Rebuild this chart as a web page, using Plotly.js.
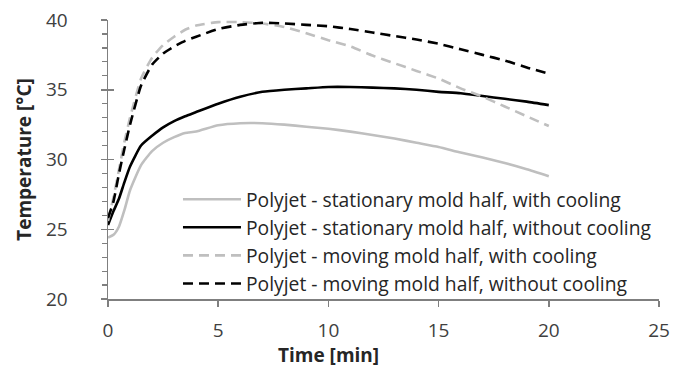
<!DOCTYPE html>
<html>
<head>
<meta charset="utf-8">
<script src="https://cdn.plot.ly/plotly-3.0.1.min.js"></script>
<style>
  html, body { margin: 0; padding: 0; background: #ffffff; }
  #chart { width: 673px; height: 371px; }
</style>
</head>
<body>
<div id="chart"></div>
<script>
// Sampling times (minutes) shared by all four temperature logs
const timeMin = [0, 0.25, 0.5, 0.75, 1, 1.5, 2, 2.5, 3, 3.5, 4, 5, 6, 7, 8, 9, 10,
                 11, 12, 13, 14, 15, 16, 17, 18, 19, 20];

// Mold temperatures (°C)
const stationaryWithCooling = [24.4, 24.6, 25.2, 26.4, 27.8, 29.6, 30.6, 31.2, 31.6, 31.9, 32.0,
  32.45, 32.6, 32.6, 32.5, 32.35, 32.2, 32.0, 31.75, 31.5, 31.2, 30.9, 30.5, 30.15, 29.75, 29.3, 28.8];
const stationaryWithoutCooling = [25.3, 26.3, 27.2, 28.4, 29.5, 31.0, 31.7, 32.3, 32.75, 33.1, 33.4,
  34.0, 34.5, 34.85, 35.0, 35.1, 35.2, 35.2, 35.15, 35.1, 35.0, 34.85, 34.75, 34.55, 34.35, 34.15, 33.9];
const movingWithCooling = [25.6, 27.3, 29.3, 31.3, 33.0, 35.8, 37.3, 38.2, 38.8, 39.3, 39.6,
  39.85, 39.85, 39.75, 39.5, 39.05, 38.55, 38.1, 37.45, 36.9, 36.35, 35.8, 35.1, 34.5, 33.8, 33.1, 32.4];
const movingWithoutCooling = [25.8, 27.0, 29.0, 30.8, 32.5, 35.3, 36.8, 37.6, 38.1, 38.5, 38.8,
  39.35, 39.65, 39.8, 39.75, 39.65, 39.55, 39.35, 39.1, 38.85, 38.6, 38.3, 37.9, 37.5, 37.1, 36.6, 36.15];

const seriesNames = [
  'Polyjet - stationary mold half, with cooling',
  'Polyjet - stationary mold half, without cooling',
  'Polyjet - moving mold half, with cooling',
  'Polyjet - moving mold half, without cooling'
];

const xTickVals = [0, 5, 10, 15, 20, 25];
const yTickVals = [20, 25, 30, 35, 40];

const FONT = 'Open Sans, Noto Sans, sans-serif';
const LIGHT = '#bfbfbf';
const DARK = '#000000';
const AXIS = '#7f7f7f';

function trace(y, name, color, dash, group) {
  return {
    x: timeMin, y: y, name: name, type: 'scatter', mode: 'lines',
    line: { color: color, width: 2.6, dash: dash, shape: 'spline', smoothing: 0.5 },
    legendgroup: group
  };
}

const data = [
  trace(stationaryWithCooling, seriesNames[0], LIGHT, 'solid', 'a'),
  trace(stationaryWithoutCooling, seriesNames[1], DARK, 'solid', 'b'),
  trace(movingWithCooling, seriesNames[2], LIGHT, '10px,6px', 'c'),
  trace(movingWithoutCooling, seriesNames[3], DARK, '10px,6px', 'd'),
  // invisible helper trace that carries the inner half of the crossing y ticks
  { x: [0], y: [20], yaxis: 'y2', mode: 'markers', marker: { opacity: 0 },
    showlegend: false, hoverinfo: 'skip' }
];

const layout = {
  width: 673, height: 371,
  margin: { l: 108, r: 14, t: 20, b: 72 },
  paper_bgcolor: '#ffffff', plot_bgcolor: '#ffffff',
  font: { family: FONT, color: '#404040', size: 18 },
  showlegend: true,
  legend: {
    x: 0.127, xanchor: 'left', y: 0.426, yanchor: 'top',
    bgcolor: 'rgba(0,0,0,0)', borderwidth: 0,
    font: { family: FONT, size: 19.3, color: '#262626' },
    itemwidth: 58, tracegroupgap: 0, traceorder: 'grouped'
  },
  xaxis: {
    range: [0, 25], tickvals: xTickVals, ticktext: xTickVals.map(String),
    showgrid: false, zeroline: false,
    showline: true, linecolor: AXIS, linewidth: 1.5,
    ticks: 'outside', ticklen: 6, tickwidth: 1.5, tickcolor: AXIS,
    ticklabelstandoff: 8,
    tickfont: { family: FONT, size: 19, color: '#404040' },
    fixedrange: true
  },
  yaxis: {
    range: [20, 40], tickvals: yTickVals, ticktext: yTickVals.map(String),
    showgrid: false, zeroline: false,
    showline: true, linecolor: AXIS, linewidth: 1.5,
    ticks: 'outside', ticklen: 6, tickwidth: 1.5, tickcolor: AXIS,
    minor: { dtick: 1, ticks: 'outside', ticklen: 5, tickwidth: 1.2, tickcolor: AXIS, showgrid: false },
    ticklabelstandoff: 29,
    tickfont: { family: FONT, size: 19, color: '#404040' },
    title: { text: 'Temperature [°C]', font: { family: FONT, size: 19, color: '#262626', weight: 'bold' }, standoff: 9 },
    fixedrange: true
  },
  yaxis2: {
    overlaying: 'y', range: [20, 40], tickvals: yTickVals, showticklabels: false,
    ticks: 'inside', ticklen: 6, tickwidth: 1.5, tickcolor: AXIS,
    showgrid: false, zeroline: false, showline: false, fixedrange: true
  },
  annotations: [{
    text: '<b>Time [min]</b>', xref: 'x', x: 10, yref: 'paper', y: 0,
    yshift: -56, xanchor: 'center', yanchor: 'middle', showarrow: false,
    font: { family: FONT, size: 19, color: '#262626' }
  }]
};

Plotly.newPlot('chart', data, layout, { staticPlot: true, displayModeBar: false });
</script>
</body>
</html>
